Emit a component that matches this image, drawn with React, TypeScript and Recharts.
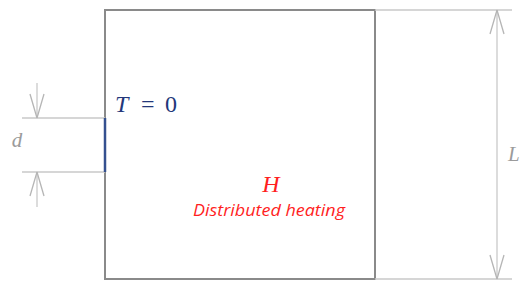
import {ReferenceArea, ReferenceDot, ReferenceLine, Scatter, ScatterChart, XAxis, YAxis} from "recharts";

// diagram space is laid out in pixels of the 523x281 frame (y grows downward)
const boxX = [105, 375];
const boxY = [10, 279];

// heated strip on the left wall, T = 0
const strip = {x: 105, y1: 118, y2: 172};

// dimension "d" on the left
const dimD = {x: 37, extFrom: 22, top: 83, bottom: 207};

// dimension "L" on the right
const dimL = {x: 497, extTo: 512};

const frame = [{x: 0, y: 0}, {x: 523, y: 281}];

const labels = [
    {id: "d", x: 17, y: 147},
    {id: "T", x: 115, y: 112},
    {id: "H", x: 271, y: 192},
    {id: "heat", x: 269, y: 216},
    {id: "L", x: 508, y: 161},
];

const ARROW_LEN = 24;
const ARROW_HALF = 7;

const dimColor = "#c9c9c9";
const arrowColor = "#b5b5b5";

const arrowSegments = (x: number, tipY: number, dir: number) => [
    [{x: x - ARROW_HALF, y: tipY - dir * ARROW_LEN}, {x, y: tipY}],
    [{x: x + ARROW_HALF, y: tipY - dir * ARROW_LEN}, {x, y: tipY}],
];

const renderLabel = (id: string) => (props: any) => {
    const vb = props.viewBox || {};
    const x = (vb.x ?? vb.cx ?? 0) + (vb.width || 0) / 2;
    const y = (vb.y ?? vb.cy ?? 0) + (vb.height || 0) / 2;
    if (id === "d") {
        return <text x={x} y={y} textAnchor="middle" fill="#9b9b9b" fontFamily="Liberation Serif" fontStyle="italic" fontSize={21}>d</text>;
    }
    if (id === "L") {
        return <text x={x} y={y} fill="#9b9b9b" fontFamily="Liberation Serif" fontStyle="italic" fontSize={21}>L</text>;
    }
    if (id === "T") {
        return (
            <text x={x} y={y} fill="#23377a" fontFamily="Liberation Serif" fontSize={24}>
                <tspan fontStyle="italic">T</tspan>
                <tspan x={x + 26}>=</tspan>
                <tspan x={x + 50}>0</tspan>
            </text>
        );
    }
    if (id === "H") {
        return <text x={x} y={y} textAnchor="middle" fill="#ff1f1f" fontFamily="Liberation Serif" fontStyle="italic" fontSize={24}>H</text>;
    }
    return (
        <text x={x} y={y} textAnchor="middle" fill="#ff1f1f" fontFamily="Open Sans" fontStyle="italic" fontSize={17}
              textLength={152} lengthAdjust="spacingAndGlyphs">Distributed heating</text>
    );
};

const App = () => {
    const lines: any[] = [
        // extension lines
        [{x: dimD.extFrom, y: strip.y1}, {x: strip.x, y: strip.y1}],
        [{x: dimD.extFrom, y: strip.y2}, {x: strip.x, y: strip.y2}],
        [{x: boxX[1], y: boxY[0]}, {x: dimL.extTo, y: boxY[0]}],
        [{x: boxX[1], y: boxY[1]}, {x: dimL.extTo, y: boxY[1]}],
        // dimension lines
        [{x: dimD.x, y: dimD.top}, {x: dimD.x, y: strip.y1}],
        [{x: dimD.x, y: strip.y2}, {x: dimD.x, y: dimD.bottom}],
        [{x: dimL.x, y: boxY[0]}, {x: dimL.x, y: boxY[1]}],
    ];
    const arrows: any[] = [
        ...arrowSegments(dimD.x, strip.y1, 1),
        ...arrowSegments(dimD.x, strip.y2, -1),
        ...arrowSegments(dimL.x, boxY[0], -1),
        ...arrowSegments(dimL.x, boxY[1], 1),
    ];

    return (
        <div style={{position: "fixed", top: 0, left: 0, width: 523, height: 281, background: "#fff"}}>
            <ScatterChart width={523} height={281} margin={{top: 0, right: 0, bottom: 0, left: 0}}>
                <XAxis type="number" dataKey="x" domain={[0, 523]} hide />
                <YAxis type="number" dataKey="y" domain={[0, 281]} reversed hide />
                <Scatter data={frame} fill="none" shape={() => <g />} isAnimationActive={false} />
                {lines.map((seg, i) => (
                    <ReferenceLine key={"l" + i} segment={seg} stroke={dimColor} strokeWidth={1.3} ifOverflow="visible" />
                ))}
                {arrows.map((seg, i) => (
                    <ReferenceLine key={"a" + i} segment={seg} stroke={arrowColor} strokeWidth={1.3} ifOverflow="visible" />
                ))}
                <ReferenceArea x1={boxX[0]} x2={boxX[1]} y1={boxY[0]} y2={boxY[1]} fill="none" fillOpacity={0}
                               stroke="#8a8a8a" strokeWidth={2} ifOverflow="visible" />
                <ReferenceLine segment={[{x: strip.x, y: strip.y1}, {x: strip.x, y: strip.y2}]} stroke="#34508f"
                               strokeWidth={2.5} ifOverflow="visible" />
                {labels.map((l) => (
                    <ReferenceDot key={l.id} x={l.x} y={l.y} r={0} fill="none" stroke="none" ifOverflow="visible"
                                  label={renderLabel(l.id)} />
                ))}
            </ScatterChart>
        </div>
    );
};

export default App;
